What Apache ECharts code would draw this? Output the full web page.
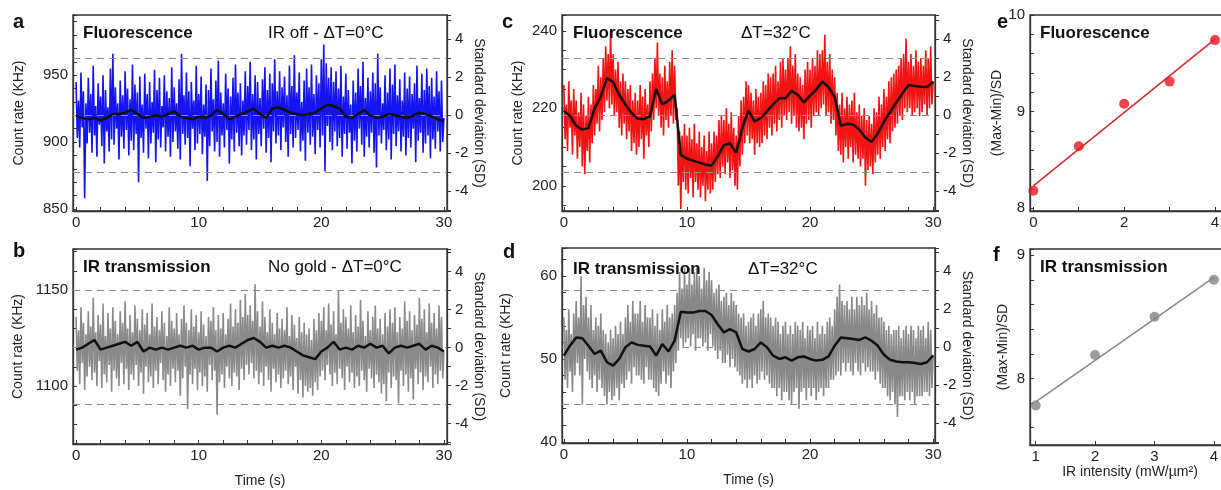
<!DOCTYPE html>
<html>
<head>
<meta charset="utf-8">
<title>Count rate traces</title>
<script src="https://cdn.jsdelivr.net/npm/echarts@6/dist/echarts.min.js"></script>
<style>
  html, body { margin: 0; padding: 0; background: #fff; }
  #chart { width: 1221px; height: 490px; }
</style>
</head>
<body>
<div id="chart"></div>
<script>
// sampling of the traces (s)
const rawStep = 0.1;
const smoothStep = 0.5;

// a: fluorescence, IR off (KHz)
const fluoOffRaw = [
  945, 903, 931, 896, 952, 911, 938, 858, 929, 899,
  948, 907, 936, 892, 957, 905, 927, 889, 944, 913,
  934, 897, 950, 884, 939, 908, 926, 893, 955, 902,
  966, 898, 941, 910, 929, 887, 946, 904, 935, 895,
  953, 909, 940, 890, 932, 901, 958, 894, 943, 906,
  937, 870, 949, 903, 928, 892, 951, 910, 936, 888,
  945, 899, 930, 907, 954, 885, 939, 902, 948, 896,
  927, 911, 950, 893, 938, 904, 933, 889, 956, 900,
  941, 908, 929, 895, 947, 887, 966, 906, 935, 898,
  952, 903, 938, 882, 945, 910, 931, 894, 957, 899,
  936, 906, 949, 891, 928, 904, 943, 871, 939, 897,
  955, 908, 932, 893, 946, 900, 961, 889, 937, 905,
  929, 896, 951, 909, 940, 884, 934, 902, 948, 893,
  958, 907, 937, 897, 944, 890, 931, 905, 953, 898,
  942, 909, 960, 894, 936, 902, 950, 887, 945, 906,
  933, 897, 947, 910, 956, 892, 939, 903, 951, 885,
  944, 908, 962, 899, 938, 905, 953, 894, 941, 911,
  949, 900, 935, 889, 957, 906, 942, 896, 965, 903,
  937, 909, 952, 893, 930, 901, 946, 886, 955, 907,
  941, 898, 958, 904, 936, 891, 950, 909, 944, 896,
  962, 905, 973, 878, 959, 912, 948, 900, 956, 894,
  945, 908, 953, 897, 940, 903, 957, 889, 934, 906,
  951, 895, 939, 907, 928, 884, 946, 901, 937, 893,
  955, 910, 942, 898, 960, 889, 933, 904, 948, 896,
  938, 907, 952, 892, 944, 881, 966, 905, 941, 899,
  929, 909, 950, 894, 937, 902, 955, 887, 943, 906,
  958, 897, 935, 908, 947, 893, 931, 904, 952, 890,
  940, 903, 949, 896, 936, 910, 944, 885, 957, 901,
  933, 907, 951, 892, 939, 899, 955, 905, 942, 888,
  948, 902, 934, 895, 953, 908, 938, 893, 946, 900,
  918
];
const fluoOffSmooth = [
  920, 918, 917, 918, 916, 918, 921, 921, 922, 924,
  921, 918, 919, 920, 919, 921, 923, 919, 918, 917,
  919, 918, 920, 924, 921, 917, 919, 921, 923, 925,
  921, 918, 925, 926, 924, 922, 921, 920, 921, 922,
  925, 928, 927, 925, 919, 918, 921, 924, 920, 918,
  919, 921, 920, 919, 918, 920, 922, 921, 919, 917,
  916
];

// b: IR transmission, no gold (KHz)
const irNoGoldRaw = [
  1136, 1108, 1129, 1101, 1141, 1112, 1133, 1098, 1127, 1105,
  1139, 1110, 1131, 1103, 1146, 1107, 1128, 1100, 1137, 1113,
  1132, 1099, 1143, 1106, 1126, 1102, 1138, 1111, 1130, 1097,
  1141, 1108, 1134, 1104, 1127, 1100, 1139, 1112, 1133, 1101,
  1144, 1109, 1130, 1098, 1137, 1106, 1128, 1103, 1142, 1111,
  1135, 1100, 1129, 1107, 1140, 1096, 1132, 1110, 1138, 1102,
  1127, 1105, 1143, 1099, 1131, 1108, 1136, 1101, 1129, 1112,
  1139, 1103, 1133, 1097, 1126, 1106, 1141, 1100, 1134, 1109,
  1130, 1102, 1138, 1108, 1127, 1095, 1135, 1104, 1142, 1110,
  1133, 1088, 1129, 1106, 1140, 1101, 1131, 1109, 1137, 1098,
  1128, 1107, 1139, 1100, 1132, 1105, 1126, 1097, 1136, 1111,
  1134, 1103, 1141, 1108, 1129, 1085, 1137, 1102, 1130, 1106,
  1138, 1099, 1127, 1110, 1135, 1104, 1143, 1100, 1131, 1107,
  1140, 1105, 1133, 1098, 1145, 1109, 1136, 1103, 1148, 1111,
  1137, 1106, 1142, 1112, 1134, 1104, 1153, 1108, 1139, 1101,
  1131, 1107, 1144, 1100, 1136, 1110, 1128, 1103, 1140, 1097,
  1133, 1109, 1127, 1102, 1138, 1106, 1130, 1099, 1135, 1104,
  1129, 1108, 1141, 1101, 1126, 1105, 1137, 1098, 1132, 1110,
  1125, 1096, 1136, 1103, 1128, 1094, 1133, 1100, 1127, 1097,
  1130, 1099, 1124, 1095, 1135, 1102, 1129, 1098, 1138, 1105,
  1134, 1108, 1141, 1103, 1129, 1111, 1143, 1106, 1132, 1100,
  1139, 1107, 1127, 1101, 1150, 1109, 1133, 1104, 1140, 1098,
  1136, 1110, 1130, 1102, 1142, 1107, 1128, 1099, 1137, 1105,
  1131, 1100, 1145, 1108, 1134, 1103, 1126, 1097, 1139, 1109,
  1129, 1104, 1136, 1099, 1142, 1106, 1130, 1102, 1135, 1096,
  1127, 1101, 1138, 1092, 1131, 1107, 1140, 1099, 1133, 1105,
  1141, 1103, 1128, 1091, 1136, 1108, 1130, 1100, 1144, 1106,
  1134, 1097, 1139, 1104, 1129, 1093, 1137, 1109, 1132, 1101,
  1146, 1107, 1135, 1098, 1140, 1105, 1128, 1102, 1143, 1110,
  1133, 1099, 1138, 1106, 1130, 1101, 1142, 1108, 1136, 1104,
  1118
];
const irNoGoldSmooth = [
  1119, 1120, 1122, 1124, 1119, 1120, 1121, 1122, 1123, 1121,
  1123, 1118, 1120, 1119, 1120, 1119, 1120, 1121, 1120, 1121,
  1119, 1120, 1120, 1118, 1120, 1121, 1120, 1122, 1124, 1125,
  1123, 1120, 1121, 1120, 1121, 1120, 1118, 1116, 1115, 1114,
  1118, 1120, 1123, 1119, 1120, 1119, 1121, 1120, 1122, 1120,
  1121, 1117, 1120, 1121, 1120, 1121, 1122, 1119, 1121, 1120,
  1118
];

// c: fluorescence, dT = 32 C (KHz)
const fluoHotRaw = [
  226, 212, 221, 209, 227, 215, 222, 208, 225, 213,
  222, 207, 219, 210, 224, 205, 221, 203, 218, 209,
  223, 206, 221, 211, 226, 213, 225, 216, 231, 214,
  228, 217, 233, 219, 236, 222, 234, 220, 240, 221,
  234, 218, 230, 219, 232, 215, 227, 213, 229, 216,
  227, 212, 225, 214, 226, 209, 222, 211, 224, 208,
  222, 210, 226, 212, 223, 207, 225, 213, 221, 210,
  227, 214, 229, 217, 233, 220, 237, 218, 229, 215,
  228, 213, 231, 217, 227, 215, 232, 218, 235, 216,
  231, 217, 220, 200, 214, 194, 213, 201, 216, 199,
  213, 198, 215, 202, 212, 197, 216, 201, 211, 199,
  214, 197, 210, 200, 213, 196, 209, 199, 214, 198,
  211, 199, 214, 201, 213, 203, 217, 202, 218, 205,
  217, 203, 220, 206, 216, 202, 219, 204, 215, 200,
  213, 199, 218, 205, 222, 208, 223, 211, 227, 213,
  226, 211, 224, 212, 222, 208, 225, 211, 223, 210,
  224, 211, 227, 213, 226, 212, 229, 215, 228, 213,
  229, 216, 231, 214, 227, 217, 232, 215, 233, 218,
  230, 217, 233, 219, 236, 216, 231, 218, 234, 215,
  229, 214, 228, 215, 226, 212, 230, 216, 232, 217,
  230, 215, 233, 218, 231, 219, 235, 218, 234, 220,
  235, 221, 239, 218, 232, 219, 234, 216, 230, 217,
  228, 213, 224, 209, 221, 208, 224, 206, 220, 210,
  223, 207, 221, 210, 222, 206, 224, 208, 219, 207,
  221, 205, 218, 207, 220, 200, 217, 204, 218, 205,
  216, 203, 220, 206, 219, 208, 223, 207, 221, 210,
  225, 209, 223, 212, 227, 211, 228, 214, 229, 215,
  230, 216, 231, 218, 233, 217, 234, 220, 238, 219,
  232, 220, 234, 218, 231, 219, 235, 220, 232, 218,
  233, 219, 231, 221, 235, 218, 233, 220, 236, 221,
  227
];
const fluoHotSmooth = [
  219.4, 218, 215.5, 214.5, 214.9, 220, 223, 227.8, 226.8, 223.5,
  221, 218.8, 217.3, 217.2, 218, 225, 221, 222, 223.5, 208,
  207, 206.5, 206, 205.5, 205.2, 207.6, 210.5, 211, 208.5, 215,
  219.4, 216.6, 217.5, 219.2, 221, 222.6, 222.6, 224.5, 223.5, 221.5,
  223.3, 224.8, 226.9, 225.5, 223, 215.5, 216, 215.8, 214.5, 212.5,
  211.3, 213.5, 216.5, 219, 221.5, 223.8, 226, 225.8, 225.6, 225.5,
  226.8
];

// d: IR transmission, dT = 32 C (KHz)
const irHotRaw = [
  55, 47.5, 53.5, 46.5, 56, 48.5, 53, 46, 55.5, 48,
  57, 49.5, 55, 48, 60, 44.5, 56.5, 50, 57.5, 48.5,
  55, 47.5, 56.5, 46.5, 53.5, 48, 55, 46, 54, 47.5,
  55.5, 46.5, 53.5, 45.5, 53, 44.5, 52, 46, 53.5, 45,
  52.5, 45.5, 54, 46.5, 53, 45, 54.5, 47, 53, 46.5,
  55, 47.5, 56.5, 48.5, 54.5, 47, 57, 49, 55.5, 48,
  55.5, 48, 57, 47.5, 54.5, 47, 56.5, 49, 55, 47.5,
  55, 47.5, 56, 46.5, 54, 46, 55.5, 45.5, 53.5, 47,
  56, 48.5, 54.5, 47, 56.5, 48, 55, 46.5, 55.5, 48.5,
  56.5, 49.5, 58, 51, 60.5, 52.5, 58.5, 51.5, 61, 52,
  59, 52.5, 61, 51.5, 59, 53, 60.5, 51, 61, 52.5,
  60, 52.5, 58.5, 51.5, 61, 52, 59.5, 51, 60.5, 53,
  59.5, 51.5, 58, 51, 58.5, 50, 59, 51, 57, 49.5,
  57.5, 49.5, 58, 50.5, 56.5, 49, 58, 50, 57, 49,
  56.5, 48.5, 55.5, 48, 55, 47, 55.5, 47.5, 54, 46.5,
  54.5, 47.5, 55, 46.5, 55.5, 48, 54, 47, 55.5, 47.5,
  56, 48.5, 57, 47.5, 55, 48, 55.5, 47, 55, 46.5,
  54, 46.5, 55, 45.5, 54.5, 46.5, 53, 45, 54, 46,
  54.5, 46, 53, 45, 54, 44.5, 53, 46, 54.5, 46.5,
  54, 44, 53.5, 46, 54.5, 46.5, 52.5, 45, 54, 46.5,
  53.5, 45.5, 54, 46.5, 52.5, 45, 54.5, 46, 53, 46.5,
  54, 45.5, 53, 46.5, 54.5, 46.5, 55, 47.5, 54, 47.5,
  56, 48, 57.5, 48.5, 59, 48, 57, 49.5, 56.5, 48.5,
  57, 49.5, 56, 48.5, 57.5, 48, 56, 49.5, 57.5, 48.5,
  56.5, 48, 57.5, 49.5, 56.5, 48.5, 58, 49, 56, 48.5,
  57, 48.5, 55.5, 47.5, 56.5, 48.5, 55, 47, 55, 46.5,
  54.5, 46.5, 53.5, 45.5, 54, 45, 53, 46, 53.5, 44.5,
  53.5, 43, 54, 45.5, 52.5, 45.5, 53.5, 45, 54, 46,
  53, 45, 54, 46, 53.5, 44.5, 52.5, 45.5, 54, 45.5,
  53.5, 45.5, 54, 46, 52.5, 46, 54.5, 45.5, 53.5, 46.5,
  50.5
];
const irHotSmooth = [
  50.4, 51.6, 52.6, 52.5, 51.6, 50.6, 51, 49.6, 49.2, 50,
  51.4, 52, 51.7, 51.6, 51.5, 50.4, 51.8, 50.9, 52.2, 55.7,
  55.6, 55.6, 55.8, 55.8, 55.3, 54.2, 53.2, 53.6, 53.2, 51.2,
  50.9, 51.2, 52, 51.4, 50.4, 50, 50.2, 49.8, 50.2, 50.3,
  50, 49.8, 49.9, 50.3, 51.6, 52.6, 52.5, 52.4, 52.3, 52.6,
  52.2, 51.6, 50.5, 49.9, 49.7, 49.6, 49.6, 49.5, 49.4, 49.6,
  50.4
];

// dashed guides on the SD axis
const sdGuides = [3, 0, -3];

// e: fluorescence (Max-Min)/SD vs IR intensity
const fluoIntensity = [0, 1, 2, 3, 4];
const fluoRatio = [8.18, 8.64, 9.08, 9.31, 9.74];
const fluoFit = [[0, 8.23], [4, 9.75]];

// f: IR transmission (Max-Min)/SD vs IR intensity
const irIntensity = [1, 2, 3, 4];
const irRatio = [7.78, 8.19, 8.5, 8.8];
const irFit = [[1, 7.81], [4, 8.82]];

const fontFamily = '"Liberation Sans", Arial, Helvetica, sans-serif';
const axisColor = '#333';
const textColor = '#222';

const withTime = (values, step) => values.map((v, i) => [Math.round(i * step * 100) / 100, v]);
const isMultiple = (v, m) => Math.abs(v / m - Math.round(v / m)) < 1e-6;
const labelEvery = m => v => (isMultiple(v, m) ? String(Math.round(v)) : '');

const grids = [
  { left: 73, top: 15, width: 374, height: 196 },
  { left: 73, top: 249, width: 374, height: 195 },
  { left: 562, top: 15, width: 373, height: 196 },
  { left: 562, top: 248, width: 373, height: 195 },
  { left: 1030, top: 15, width: 200, height: 196 },
  { left: 1030, top: 249, width: 200, height: 196 }
];

const tracePanels = [
  { raw: fluoOffRaw, smooth: fluoOffSmooth, color: '#1414f0', x: [-0.25, 30.25], y: [848.5, 995], yStep: 10, yLabel: 50, sd: [-5.04, 5.28], xName: '', yGap: 47 },
  { raw: irNoGoldRaw, smooth: irNoGoldSmooth, color: '#8a8a8a', x: [-0.25, 30.25], y: [1069.8, 1171.4], yStep: 10, yLabel: 50, sd: [-5.07, 5.19], xName: 'Time (s)', yGap: 48 },
  { raw: fluoHotRaw, smooth: fluoHotSmooth, color: '#f21212', x: [-0.15, 30.15], y: [193.5, 244.1], yStep: 5, yLabel: 20, sd: [-5.05, 5.26], xName: '', yGap: 37 },
  { raw: irHotRaw, smooth: irHotSmooth, color: '#888888', x: [-0.15, 30.15], y: [39.85, 63.4], yStep: 2, yLabel: 10, sd: [-5.04, 5.22], xName: 'Time (s)', yGap: 49 }
];

const nameStyle = { fontFamily, fontSize: 14, color: textColor };
const labelStyle = { fontFamily, fontSize: 15, color: textColor };

function makeXAxis(gridIndex, range, step, every, name, gap) {
  return {
    gridIndex, type: 'value', min: range[0], max: range[1],
    minInterval: step, maxInterval: step,
    axisLine: { show: true, onZero: false, lineStyle: { color: axisColor, width: 1.3 } },
    axisTick: { show: true, inside: true, length: 4, lineStyle: { color: axisColor } },
    axisLabel: Object.assign({ margin: 4, formatter: labelEvery(every) }, labelStyle),
    splitLine: { show: false },
    name, nameLocation: 'middle', nameGap: gap, nameTextStyle: nameStyle
  };
}

function makeYAxis(gridIndex, range, step, every, opts) {
  return Object.assign({
    gridIndex, type: 'value', min: range[0], max: range[1],
    minInterval: step, maxInterval: step,
    axisLine: { show: true, onZero: false, lineStyle: { color: axisColor, width: 1.3 } },
    axisTick: { show: true, inside: true, length: 4, lineStyle: { color: axisColor } },
    axisLabel: Object.assign({ margin: 5, formatter: labelEvery(every) }, labelStyle),
    splitLine: { show: false },
    nameLocation: 'middle', nameTextStyle: nameStyle
  }, opts);
}

const xAxes = [];
const yAxes = [];
const series = [];

tracePanels.forEach((p, i) => {
  xAxes.push(makeXAxis(i, p.x, 2, 10, p.xName, 30));
  yAxes.push(makeYAxis(i, p.y, p.yStep, p.yLabel, { name: 'Count rate (KHz)', nameGap: p.yGap }));
  yAxes.push(makeYAxis(i, p.sd, 1, 2, {
    position: 'right', name: 'Standard deviation (SD)', nameGap: 23, nameRotate: -90,
    axisTick: { show: true, inside: false, length: 4, lineStyle: { color: axisColor } },
    axisLabel: Object.assign({ margin: 8, formatter: labelEvery(2) }, labelStyle)
  }));
  series.push({
    type: 'line', xAxisIndex: i, yAxisIndex: 2 * i, data: withTime(p.raw, rawStep),
    symbol: 'none', lineStyle: { color: p.color, width: 1.6 }, z: 2, silent: true
  });
  series.push({
    type: 'line', xAxisIndex: i, yAxisIndex: 2 * i + 1, data: [], symbol: 'none',
    markLine: {
      silent: true, symbol: 'none', z: 3, label: { show: false },
      lineStyle: { type: [7, 5], color: '#8c8c8c', width: 1.2 },
      data: sdGuides.map(v => ({ yAxis: v }))
    }
  });
  series.push({
    type: 'line', xAxisIndex: i, yAxisIndex: 2 * i, data: withTime(p.smooth, smoothStep),
    symbol: 'none', lineStyle: { color: '#111', width: 2.5 }, z: 4, silent: true
  });
});

// e
xAxes.push(makeXAxis(4, [-0.073, 4.33], 1, 2, '', 20));
yAxes.push(makeYAxis(4, [7.97, 10.0], 0.2, 1, { name: '(Max-Min)/SD', nameGap: 20 }));
series.push({
  type: 'line', xAxisIndex: 4, yAxisIndex: 8, data: fluoFit, symbol: 'none',
  lineStyle: { color: '#d42a2a', width: 1.5 }, z: 3
});
series.push({
  type: 'scatter', xAxisIndex: 4, yAxisIndex: 8,
  data: fluoIntensity.map((x, i) => [x, fluoRatio[i]]),
  symbolSize: 10, itemStyle: { color: '#e8141c' }, z: 4
});

// f
xAxes.push(makeXAxis(5, [0.904, 4.27], 1, 1, 'IR intensity (mW/µm²)', 19));
yAxes.push(makeYAxis(5, [7.46, 9.05], 0.2, 1, { name: '(Max-Min)/SD', nameGap: 20 }));
series.push({
  type: 'line', xAxisIndex: 5, yAxisIndex: 9, data: irFit, symbol: 'none',
  lineStyle: { color: '#888', width: 1.5 }, z: 3
});
series.push({
  type: 'scatter', xAxisIndex: 5, yAxisIndex: 9,
  data: irIntensity.map((x, i) => [x, irRatio[i]]),
  symbolSize: 10, itemStyle: { color: '#858585' }, z: 4
});

const boldText = (text, x, y, size) => ({
  type: 'text', x, y, z: 100, silent: true,
  style: { text, fontFamily, fontSize: size, fontWeight: 'bold', fill: '#111', verticalAlign: 'middle' }
});
const plainText = (text, x, y) => ({
  type: 'text', x, y, z: 100, silent: true,
  style: { text, fontFamily, fontSize: 17, fill: '#111', verticalAlign: 'middle' }
});

const graphics = [
  boldText('a', 13, 22, 20), boldText('b', 13, 251, 20), boldText('c', 502, 22, 20),
  boldText('d', 503, 252, 20), boldText('e', 997, 22, 20), boldText('f', 993, 255, 20),
  boldText('Fluorescence', 83, 33, 17), plainText('IR off - ΔT=0°C', 268, 33),
  boldText('IR transmission', 83, 267, 17), plainText('No gold - ΔT=0°C', 268, 267),
  boldText('Fluorescence', 573, 33, 17), plainText('ΔT=32°C', 741, 33),
  boldText('IR transmission', 573, 269, 17), plainText('ΔT=32°C', 748, 269),
  boldText('Fluorescence', 1040, 33, 17),
  boldText('IR transmission', 1040, 267, 17)
];

const chart = echarts.init(document.getElementById('chart'), null, { renderer: 'canvas' });
chart.setOption({
  animation: false,
  backgroundColor: '#fff',
  grid: grids.map(g => Object.assign({
    show: true, borderColor: axisColor, borderWidth: 1.3, backgroundColor: 'transparent',
    outerBoundsMode: 'none'
  }, g)),
  xAxis: xAxes,
  yAxis: yAxes,
  series,
  graphic: graphics
});
window.addEventListener('resize', () => chart.resize());
</script>
</body>
</html>
